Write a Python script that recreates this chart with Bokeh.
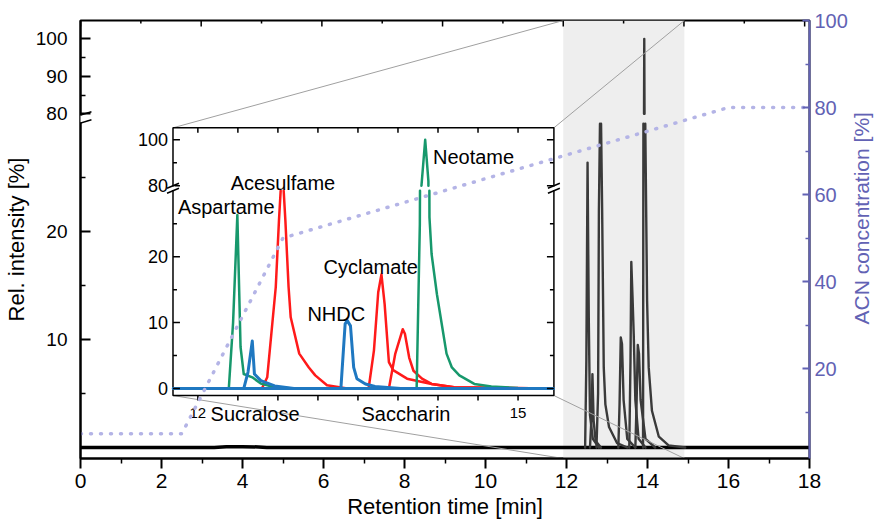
import numpy as np
from bokeh.plotting import figure
from bokeh.layouts import row
from bokeh.models import Range1d, LinearAxis, FixedTicker, Arrow, PolyAnnotation
from bokeh.core.properties import value
from bokeh.embed import file_html
from bokeh.resources import INLINE

# ---------------- data ----------------
X_TICKS = [0, 2, 4, 6, 8, 10, 12, 14, 16, 18]
X_MINOR = [1, 3, 5, 7, 9, 11, 13, 15, 17]
TOP_MAJOR = [0, 2.98, 5.96, 8.94, 11.92, 14.90, 17.88]
TOP_MINOR = [1.49, 4.47, 7.45, 10.43, 13.41, 16.39]
Y_LOW_LABELED = [10, 20]
Y_LOW_MINOR = [5, 15, 25]
Y_UP_LABELED = [80, 90, 100]
Y_UP_MINOR = [85, 95]
ACN_TICKS = [20, 40, 60, 80, 100]
ACN_MINOR = [10, 30, 50, 70, 90]

ACN_T = [0, 2.5, 5.0, 16.0, 18.0]
ACN_V = [5, 5, 50, 80, 80]

ZOOM_T = [11.92, 14.91]

MAIN_BASE_T = [0, 3.3, 3.6, 4.0, 4.4, 4.6, 18]
MAIN_BASE_V = [0, 0, 0.06, 0.08, 0.05, 0, 0]

MAIN_ASP_T = [12.46, 12.49, 12.52, 12.55, 12.58, 12.65, 12.80]
MAIN_ASP_V = [0, 8, 26.4, 12, 3, 0.8, 0]
MAIN_SUC_T = [12.58, 12.62, 12.64, 12.67, 12.72, 12.85]
MAIN_SUC_V = [0, 3, 6.8, 2.5, 0.6, 0]
MAIN_ACE_T = [12.74, 12.78, 12.80, 12.84, 12.88, 12.92, 12.96, 13.05, 13.25, 13.50]
MAIN_ACE_V = [0, 5, 22, 34, 22, 7.4, 4, 1.9, 0.4, 0]
MAIN_NHDC_T = [13.28, 13.31, 13.34, 13.37, 13.41, 13.50, 13.70]
MAIN_NHDC_V = [0, 4, 10.2, 9.6, 4.4, 0.8, 0]
MAIN_CYC_T = [13.55, 13.58, 13.60, 13.63, 13.66, 13.70, 13.78, 13.95]
MAIN_CYC_V = [0, 8, 17.2, 14, 10.5, 4.4, 0.8, 0]
MAIN_SAC_T = [13.70, 13.73, 13.76, 13.79, 13.83, 13.95, 14.19]
MAIN_SAC_V = [0, 4, 9.5, 8.7, 4.4, 0.8, 0]
MAIN_NEO_T = [13.89, 13.905, 13.92, 13.935, 13.945, 13.99, 14.03, 14.11, 14.28, 14.52, 14.93]
MAIN_NEO_V = [0, 50, 100, 55, 30, 13.6, 7.4, 3.4, 1.0, 0.2, 0]

# inset (standards)
INSET_XTICKS = [12, 12.375, 12.75, 13.125, 13.5, 13.875, 14.25, 14.625, 15]
INSET_XLABELS = [12, 15]
INSET_Y_LABELED = [0, 10, 20, 80, 100]
INSET_Y_MINOR = [5, 15, 25, 90]

IN_ASP_T = [11.77, 12.29, 12.33, 12.37, 12.40, 12.43, 12.51, 12.59, 12.72, 12.90, 15.33]
IN_ASP_V = [0, 0, 10, 26.3, 6.3, 2.2, 1.7, 0.75, 0.2, 0, 0]
IN_SUC_T = [11.77, 12.43, 12.47, 12.51, 12.53, 12.59, 12.72, 12.90, 15.33]
IN_SUC_V = [0, 0, 2.5, 7.2, 2.2, 1.2, 0.4, 0, 0]
IN_ACE_T = [11.77, 12.60, 12.65, 12.73, 12.76, 12.79, 12.82, 12.85, 12.87, 12.95, 13.04, 13.10, 13.21, 13.40, 15.33]
IN_ACE_V = [0, 0, 1.7, 15.4, 25.5, 34, 25.5, 15.4, 10.8, 5.3, 3.2, 2.0, 0.5, 0, 0]
IN_NHDC_T = [11.77, 13.34, 13.38, 13.40, 13.43, 13.46, 13.49, 13.57, 13.66, 13.90, 15.33]
IN_NHDC_V = [0, 0, 9.8, 10.3, 9.5, 3.2, 1.5, 0.7, 0.3, 0, 0]
IN_CYC_T = [11.77, 13.60, 13.65, 13.69, 13.72, 13.75, 13.79, 13.83, 13.96, 14.19, 14.40, 15.33]
IN_CYC_V = [0, 0, 5.8, 14.6, 17.3, 12.8, 4.0, 2.8, 1.5, 0.7, 0.2, 0]
IN_SAC_T = [11.77, 13.79, 13.85, 13.92, 13.94, 13.98, 14.02, 14.10, 14.19, 14.40, 15.33]
IN_SAC_V = [0, 0, 5.3, 9.0, 8.3, 4.7, 2.7, 1.5, 0.7, 0.2, 0]
IN_NEO_T = [11.77, 14.05, 14.08, 14.095, 14.13, 14.16, 14.17, 14.19, 14.24, 14.29, 14.33, 14.38, 14.45, 14.59, 14.75, 15.00, 15.33]
IN_NEO_V = [0, 0, 25, 80, 100, 82, 26, 20.4, 14.3, 9.3, 5.3, 3.2, 2.0, 0.7, 0.3, 0.1, 0]

IN_NAMES = ["Aspartame", "Acesulfame", "Cyclamate", "NHDC", "Neotame"]
IN_BELOW = ["Sucralose", "Saccharin"]
ACN_TITLE = "ACN concentration [%]"

# ---------------- geometry / style ----------------
FONT = "Liberation Sans"
DARK = "#3a3a3a"
ACN_C = "#6262b4"
ACN_LINE = "#b4b4e6"
GREEN = "#17986c"
RED = "#ff1a1a"
BLUE = "#1f78c1"
GRAY = "#a0a0a0"
SHADE = "#eeeeee"

FW, FH = 733, 438          # frame size in px (y range in px units)
PX = 18.0 / FW             # minutes per px (main)
BRK_LO, BRK_HI = 30.0, 80.0


def make_map(zero, klo, upb, kup):
    def f(v):
        v = np.asarray(v, dtype=float)
        top = zero + klo * BRK_LO
        mid = top + (v - BRK_LO) / (BRK_HI - BRK_LO) * (upb - top)
        return np.where(v <= BRK_LO, zero + klo * v,
                        np.where(v >= BRK_HI, upb + kup * (v - BRK_HI), mid))
    return f


main_map = make_map(11.0, 10.8, 345.0, 3.75)
inset_map = make_map(70.0, 6.6, 273.0, 2.3)

MAIN_YLIM = (-1.02, 104.9)
INSET_XLIM = (11.767, 15.336)
INSET_YLIM = (-1.06, 105.2)
IN_L, IN_R = 93.0 / FW, 476.0 / FW      # inset frame position (fraction of frame width)
IW = (INSET_XLIM[1] - INSET_XLIM[0]) / (IN_R - IN_L)
IX0 = INSET_XLIM[0] - IN_L * IW
IPX = IW / FW                             # inset minutes per px


def clip_pieces(t, v, lo, hi):
    px, py = [], []
    prev_end = False
    for i in range(len(t) - 1):
        t0, t1, v0, v1 = float(t[i]), float(t[i + 1]), float(v[i]), float(v[i + 1])
        dv = v1 - v0
        if dv == 0:
            a, b = (0.0, 1.0) if lo <= v0 <= hi else (1.0, 0.0)
        else:
            s1, s2 = (lo - v0) / dv, (hi - v0) / dv
            a, b = max(0.0, min(s1, s2)), min(1.0, max(s1, s2))
        if b - a <= 1e-12:
            prev_end = False
            continue
        xa, ya = t0 + a * (t1 - t0), v0 + a * dv
        xb, yb = t0 + b * (t1 - t0), v0 + b * dv
        if prev_end and a == 0.0:
            px.append(xb); py.append(yb)
        else:
            if px:
                px.append(np.nan); py.append(np.nan)
            px += [xa, xb]; py += [ya, yb]
        prev_end = (b == 1.0)
    return px, py


def draw_broken(p, t, v, mapper, **kw):
    for lo, hi in ((-1e9, BRK_LO), (BRK_HI, 1e9)):
        xs, ys = clip_pieces(t, v, lo, hi)
        if xs:
            p.line(xs, mapper(ys), **kw)


def okey(x):
    x = float(x)
    return int(x) if x.is_integer() else x


# ---------------- main figure ----------------
p = figure(width=850, height=527, x_range=Range1d(0, 18),
           y_range=Range1d(float(main_map(MAIN_YLIM[0])), float(main_map(MAIN_YLIM[1]))),
           output_backend="svg", toolbar_location=None,
           min_border_left=77, min_border_right=40, min_border_top=20, min_border_bottom=69)
p.extra_x_ranges = {"ix": Range1d(IX0, IX0 + IW)}
p.extra_y_ranges = {"acn": Range1d(-3.0 / 4.35, 100)}
p.xgrid.visible = False
p.ygrid.visible = False
p.outline_line_color = "black"
p.outline_line_width = 2
p.outline_line_alpha = 1.0
p.background_fill_color = "white"
p.border_fill_color = "white"

# bottom axis
xa = p.xaxis[0]
xa.ticker = FixedTicker(ticks=X_TICKS, minor_ticks=X_MINOR)
xa.axis_line_width = 2
xa.major_tick_line_width = 2
xa.minor_tick_line_width = 1.5
xa.major_tick_out = 10
xa.major_tick_in = 0
xa.minor_tick_out = 5
xa.minor_tick_in = 0
xa.major_label_standoff = 5
xa.major_label_text_font = FONT
xa.major_label_text_font_size = "21px"
xa.major_label_text_color = "black"
xa.axis_label = "Retention time [min]"
xa.axis_label_text_font = FONT
xa.axis_label_text_font_size = "22px"
xa.axis_label_text_font_style = "normal"
xa.axis_label_text_color = "black"
xa.axis_label_standoff = 3

# left axis (broken)
ya = p.yaxis[0]
y_major_vals = Y_LOW_LABELED + Y_UP_LABELED
y_major = [float(main_map(v)) for v in y_major_vals]
ya.ticker = FixedTicker(ticks=y_major,
                        minor_ticks=[float(main_map(v)) for v in Y_LOW_MINOR + Y_UP_MINOR])
ya.major_label_overrides = {okey(t): str(v) for t, v in zip(y_major, y_major_vals)}
ya.axis_line_width = 2
ya.major_tick_line_width = 2
ya.minor_tick_line_width = 1.5
ya.major_tick_in = 10
ya.major_tick_out = 0
ya.minor_tick_in = 5
ya.minor_tick_out = 0
ya.major_label_standoff = 13
ya.major_label_text_font = FONT
ya.major_label_text_font_size = "19px"
ya.major_label_text_color = "black"
ya.axis_label = "Rel. intensity [%]"
ya.axis_label_text_font = FONT
ya.axis_label_text_font_size = "22px"
ya.axis_label_text_font_style = "normal"
ya.axis_label_text_color = "black"
ya.axis_label_standoff = 4

# right axis (ACN)
ra = LinearAxis(y_range_name="acn", ticker=FixedTicker(ticks=ACN_TICKS, minor_ticks=ACN_MINOR),
                axis_line_color=ACN_C, axis_line_width=2,
                major_tick_line_color=ACN_C, minor_tick_line_color=ACN_C,
                major_tick_line_width=2, minor_tick_line_width=1.5,
                major_tick_in=7, major_tick_out=0, minor_tick_in=4, minor_tick_out=0,
                major_label_standoff=5, major_label_text_font=FONT,
                major_label_text_font_size="20px", major_label_text_color=ACN_C)
p.add_layout(ra, "right")

# shaded zoom window
p.quad(left=[ZOOM_T[0]], right=[ZOOM_T[1]], bottom=[p.y_range.start], top=[p.y_range.end],
       fill_color=SHADE, line_color=None, level="underlay")

# top frame ticks (inward)
ytop = p.y_range.end
p.segment(x0=TOP_MAJOR, y0=[ytop] * len(TOP_MAJOR), x1=TOP_MAJOR, y1=[ytop - 6] * len(TOP_MAJOR),
          line_color="black", line_width=1.5)
p.segment(x0=TOP_MINOR, y0=[ytop] * len(TOP_MINOR), x1=TOP_MINOR, y1=[ytop - 3] * len(TOP_MINOR),
          line_color="black", line_width=1.5)

# main chromatograms
p.line(MAIN_BASE_T, main_map(MAIN_BASE_V), line_color="black", line_width=3.5)
for t, v in [(MAIN_ASP_T, MAIN_ASP_V), (MAIN_SUC_T, MAIN_SUC_V), (MAIN_ACE_T, MAIN_ACE_V),
             (MAIN_NHDC_T, MAIN_NHDC_V), (MAIN_CYC_T, MAIN_CYC_V), (MAIN_SAC_T, MAIN_SAC_V),
             (MAIN_NEO_T, MAIN_NEO_V)]:
    draw_broken(p, t, v, main_map, line_color=DARK, line_width=2.4, line_join="round", line_cap="round")

# connector lines inset -> zoom window
iy0 = float(inset_map(INSET_YLIM[0]))
iy1 = float(inset_map(INSET_YLIM[1]))
cx_l, cx_r = IN_L * 18.0, IN_R * 18.0
p.segment(x0=[cx_l, cx_r, cx_l, cx_r], y0=[iy1, iy1, iy0, iy0],
          x1=[ZOOM_T[0], ZOOM_T[1], ZOOM_T[0], ZOOM_T[1]],
          y1=[p.y_range.end, p.y_range.end, p.y_range.start, p.y_range.start],
          line_color=GRAY, line_width=1)

# inset frame
p.quad(left=[INSET_XLIM[0]], right=[INSET_XLIM[1]], bottom=[iy0], top=[iy1], x_range_name="ix",
       fill_color="white", line_color="black", line_width=1.5)

# inset traces
for t, v, c, w in [(IN_ACE_T, IN_ACE_V, RED, 2.5), (IN_CYC_T, IN_CYC_V, RED, 2.5),
                   (IN_SAC_T, IN_SAC_V, RED, 2.5), (IN_ASP_T, IN_ASP_V, GREEN, 2.5),
                   (IN_NEO_T, IN_NEO_V, GREEN, 2.5), (IN_SUC_T, IN_SUC_V, BLUE, 3.0),
                   (IN_NHDC_T, IN_NHDC_V, BLUE, 3.0)]:
    draw_broken(p, t, v, inset_map, x_range_name="ix", line_color=c, line_width=w,
                line_join="round", line_cap="round")

# inset ticks
X0, X1 = INSET_XLIM
ymaj = [float(inset_map(v)) for v in INSET_Y_LABELED]
ymin = [float(inset_map(v)) for v in INSET_Y_MINOR]
tick_kw = dict(x_range_name="ix", line_color="black", line_width=1.5)
p.segment(x0=[X0] * len(ymaj), y0=ymaj, x1=[X0 + 7 * IPX] * len(ymaj), y1=ymaj, **tick_kw)
p.segment(x0=[X1] * len(ymaj), y0=ymaj, x1=[X1 - 7 * IPX] * len(ymaj), y1=ymaj, **tick_kw)
p.segment(x0=[X0] * len(ymin), y0=ymin, x1=[X0 + 4 * IPX] * len(ymin), y1=ymin, **tick_kw)
p.segment(x0=[X1] * len(ymin), y0=ymin, x1=[X1 - 4 * IPX] * len(ymin), y1=ymin, **tick_kw)
n = len(INSET_XTICKS)
p.segment(x0=INSET_XTICKS, y0=[iy0] * n, x1=INSET_XTICKS, y1=[iy0 - 5] * n, **tick_kw)
p.segment(x0=INSET_XTICKS, y0=[iy1] * n, x1=INSET_XTICKS, y1=[iy1 - 5] * n, **tick_kw)

# inset axis breaks
b_lo = float(inset_map(BRK_LO))
b_hi = float(inset_map(BRK_HI))
p.quad(left=[X0 - 2 * IPX, X1 - 2 * IPX], right=[X0 + 2 * IPX, X1 + 2 * IPX],
       bottom=[b_lo + 0.8] * 2, top=[b_hi - 0.8] * 2, x_range_name="ix",
       fill_color="white", line_color=None)
sl = []
for xc in (X0, X1):
    for yc in (b_lo, b_hi):
        sl.append((xc - 6 * IPX, yc - 2.5, xc + 6 * IPX, yc + 2.5))
p.segment(x0=[s[0] for s in sl], y0=[s[1] for s in sl], x1=[s[2] for s in sl], y1=[s[3] for s in sl],
          **tick_kw)

# inset tick labels
p.text(x=[X0 - 5 * IPX] * len(ymaj), y=ymaj, text=[str(v) for v in INSET_Y_LABELED],
       x_range_name="ix", text_font=value(FONT), text_font_size="18px",
       text_align="right", text_baseline="middle", text_color="black")
p.text(x=INSET_XLABELS, y=[float(inset_map(-3.75))] * len(INSET_XLABELS),
       text=[str(v) for v in INSET_XLABELS], x_range_name="ix", text_font=value(FONT),
       text_font_size="15px", text_align="center", text_baseline="alphabetic", text_color="black")

# compound labels (anchor x in inset minutes, y in inset intensity units)
name_x = [12.266, 12.797, 13.62, 13.297, 14.583]
name_y = [27.6, 81.4, 18.4, 11.3, 92.6]
p.text(x=name_x, y=inset_map(name_y), text=IN_NAMES, x_range_name="ix", text_font=value(FONT),
       text_font_size="20px", text_align="center", text_baseline="alphabetic", text_color="black")
p.text(x=[12.536, 13.95], y=inset_map([-3.83, -3.83]), text=IN_BELOW, x_range_name="ix",
       text_font=value(FONT), text_font_size="20px", text_align="center",
       text_baseline="alphabetic", text_color="black")

# ACN gradient
p.line(ACN_T, ACN_V, y_range_name="acn", line_color=ACN_LINE, line_width=3.5,
       line_dash="1 9", line_cap="round")

# main axis break (left)
m_lo = float(main_map(BRK_LO))
m_hi = float(main_map(BRK_HI))
p.add_layout(PolyAnnotation(xs=[-5 * PX, 5 * PX, 5 * PX, -5 * PX],
                            ys=[m_lo + 1.5, m_lo + 1.5, m_hi - 1.5, m_hi - 1.5],
                            fill_color="white", fill_alpha=1.0, line_color=None))
for yc in (m_lo + 0.5, m_hi - 1.5):
    p.add_layout(Arrow(end=None, x_start=-12 * PX, y_start=yc - 3.5, x_end=11 * PX, y_end=yc + 3.5,
                       line_color="black", line_width=1.5))

# ---------------- narrow strip for the right-axis title (reads bottom to top) ----------------
pt = figure(width=25, height=527, x_range=Range1d(0, 1), y_range=Range1d(0, 527),
            output_backend="svg", toolbar_location=None, x_axis_location=None,
            y_axis_location=None, min_border=0)
pt.xgrid.visible = False
pt.ygrid.visible = False
pt.outline_line_color = None
pt.background_fill_color = "white"
pt.border_fill_color = "white"
pt.text(x=[0.45], y=[289], text=[ACN_TITLE], angle=np.pi / 2, text_font=value(FONT),
        text_font_size="21px", text_align="center", text_baseline="middle", text_color=ACN_C)

layout = row(p, pt, spacing=0)
open("out.html", "w").write(file_html(layout, INLINE))
